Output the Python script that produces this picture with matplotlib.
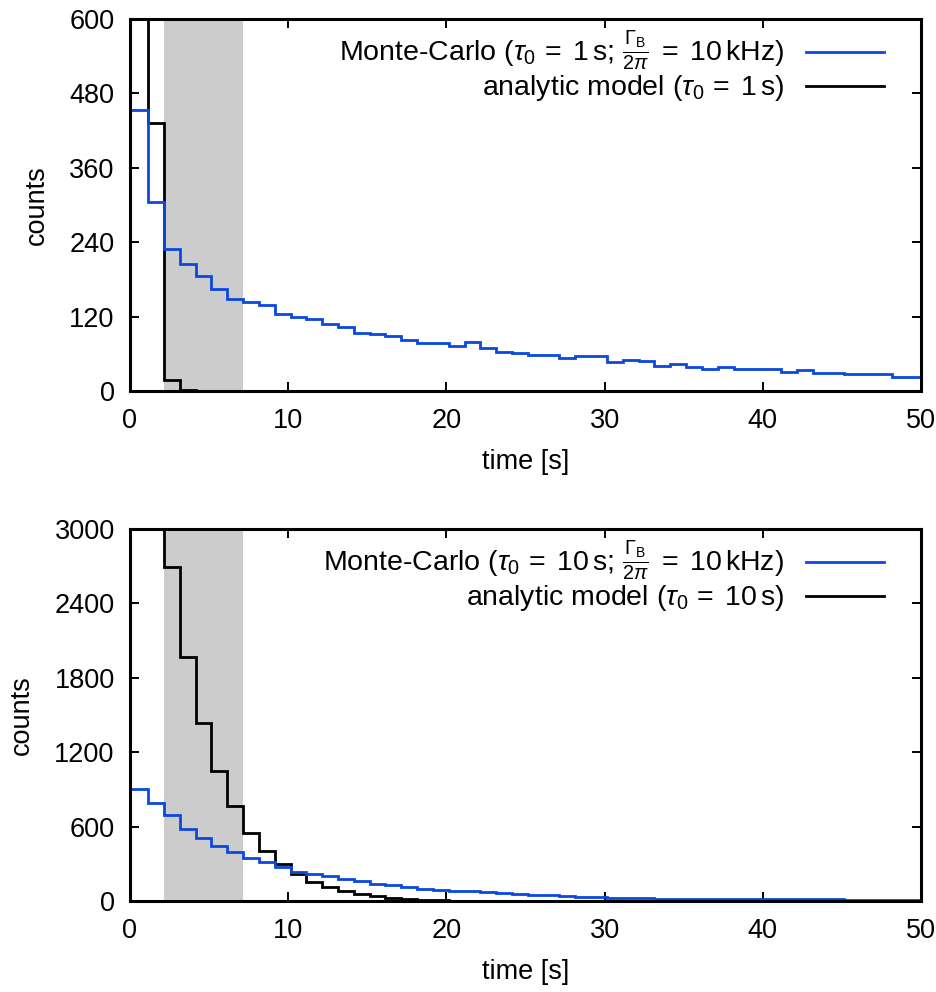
import matplotlib
matplotlib.use("Agg")
import matplotlib.pyplot as plt
from matplotlib.lines import Line2D

plt.rcParams['font.family'] = ['Liberation Sans', 'DejaVu Sans']
plt.rcParams['mathtext.fontset'] = 'custom'
plt.rcParams['mathtext.rm'] = 'Liberation Sans'
plt.rcParams['mathtext.it'] = 'Liberation Sans:italic'
plt.rcParams['mathtext.bf'] = 'Liberation Sans:bold'
plt.rcParams['mathtext.sf'] = 'Liberation Sans'

# ---- data ----
bin_edges = [0, 1.15, 2.15, 3.15, 4.15, 5.15, 6.15, 7.15, 8.15, 9.15, 10.15,
             11.15, 12.15, 13.15, 14.15, 15.15, 16.15, 17.15, 18.15, 19.15, 20.15,
             21.15, 22.15, 23.15, 24.15, 25.15, 26.15, 27.15, 28.15, 29.15, 30.15,
             31.15, 32.15, 33.15, 34.15, 35.15, 36.15, 37.15, 38.15, 39.15, 40.15,
             41.15, 42.15, 43.15, 44.15, 45.15, 46.15, 47.15, 48.15, 49.15, 50]

top_mc = [453, 305, 229, 205, 186, 164, 149, 144, 139, 124,
          119, 116, 108, 104, 93, 92, 89, 83, 77, 77,
          72, 79, 69, 63, 62, 58, 58, 53, 56, 56,
          47, 50, 49, 40, 44, 39, 35, 38, 35, 35,
          35, 30, 34, 29, 29, 28, 28, 27, 23, 23]
top_an = [1500, 432, 18, 2, 0, 0, 0, 0, 0, 0,
          0, 0, 0, 0, 0, 0, 0, 0, 0, 0,
          0, 0, 0, 0, 0, 0, 0, 0, 0, 0,
          0, 0, 0, 0, 0, 0, 0, 0, 0, 0,
          0, 0, 0, 0, 0, 0, 0, 0, 0, 0]

bot_mc = [900, 788, 691, 584, 512, 445, 399, 351, 315, 275,
          238, 222, 199, 177, 159, 140, 126, 110, 99, 91,
          83, 78, 71, 65, 56, 51, 46, 40, 32, 30,
          27, 24, 24, 19, 19, 18, 18, 16, 15, 15,
          14, 14, 13, 13, 13, 12, 12, 12, 11, 11]
bot_an = [5000, 3700, 2695, 1972, 1436, 1047, 766, 552, 405, 298,
          218, 157, 110, 78, 56, 38, 27, 17, 11, 6,
          4, 3, 2, 1, 1, 0, 0, 0, 0, 0,
          0, 0, 0, 0, 0, 0, 0, 0, 0, 0,
          0, 0, 0, 0, 0, 0, 0, 0, 0, 0]

shade_range = (2.15, 7.15)
x_ticks = [0, 10, 20, 30, 40, 50]
top_yticks = [0, 120, 240, 360, 480, 600]
bot_yticks = [0, 600, 1200, 1800, 2400, 3000]

top_labels = [r'Monte-Carlo ($\tau_0\,=\;1\,\mathrm{s}$; $\frac{\mathit{\Gamma}_\mathrm{B}}{2\pi}\;=\;10\,\mathrm{kHz}$)',
              r'analytic model ($\tau_0\,=\;1\,\mathrm{s}$)']
bot_labels = [r'Monte-Carlo ($\tau_0\,=\;10\,\mathrm{s}$; $\frac{\mathit{\Gamma}_\mathrm{B}}{2\pi}\;=\;10\,\mathrm{kHz}$)',
              r'analytic model ($\tau_0\,=\;10\,\mathrm{s}$)']

BLUE = '#0a48e0'
FS = 19.5
LFS = 20.5
LW = 2.0

fig = plt.figure(figsize=(9.37, 9.92), dpi=100)
ax1 = fig.add_axes([0.1387, 0.6058, 0.8442, 0.375])
ax2 = fig.add_axes([0.1387, 0.0917, 0.8442, 0.375])

def setup(ax, mc, an, yticks, labels):
    ax.axvspan(shade_range[0], shade_range[1], color='#cccccc', lw=0, zorder=0)
    ax.stairs(mc, bin_edges, baseline=None, color=BLUE, lw=LW, zorder=3)
    ax.stairs(an, bin_edges, baseline=None, color='black', lw=LW, zorder=2)
    ax.set_xlim(0, 50)
    ax.set_ylim(yticks[0], yticks[-1])
    ax.set_xticks(x_ticks)
    ax.set_yticks(yticks)
    ax.tick_params(direction='in', top=True, right=True, length=6.5, width=1.4,
                   labelsize=FS)
    ax.tick_params(axis='x', pad=12)
    ax.tick_params(axis='y', pad=11)
    for s in ax.spines.values():
        s.set_linewidth(2.2)
        s.set_zorder(5)
    ax.set_xlabel('time [s]', fontsize=FS, labelpad=11)
    ax.set_ylabel('counts', fontsize=FS, labelpad=14)
    handles = [Line2D([], [], color=BLUE, lw=LW), Line2D([], [], color='black', lw=LW)]
    ax.legend(handles, labels, loc='upper right', markerfirst=False, frameon=False,
              fontsize=LFS, handlelength=2.75, handletextpad=0.75, labelspacing=0.0,
              borderaxespad=0.2, bbox_to_anchor=(0.975, 1.018))

setup(ax1, top_mc, top_an, top_yticks, top_labels)
setup(ax2, bot_mc, bot_an, bot_yticks, bot_labels)

fig.savefig('out.png', dpi=100)
